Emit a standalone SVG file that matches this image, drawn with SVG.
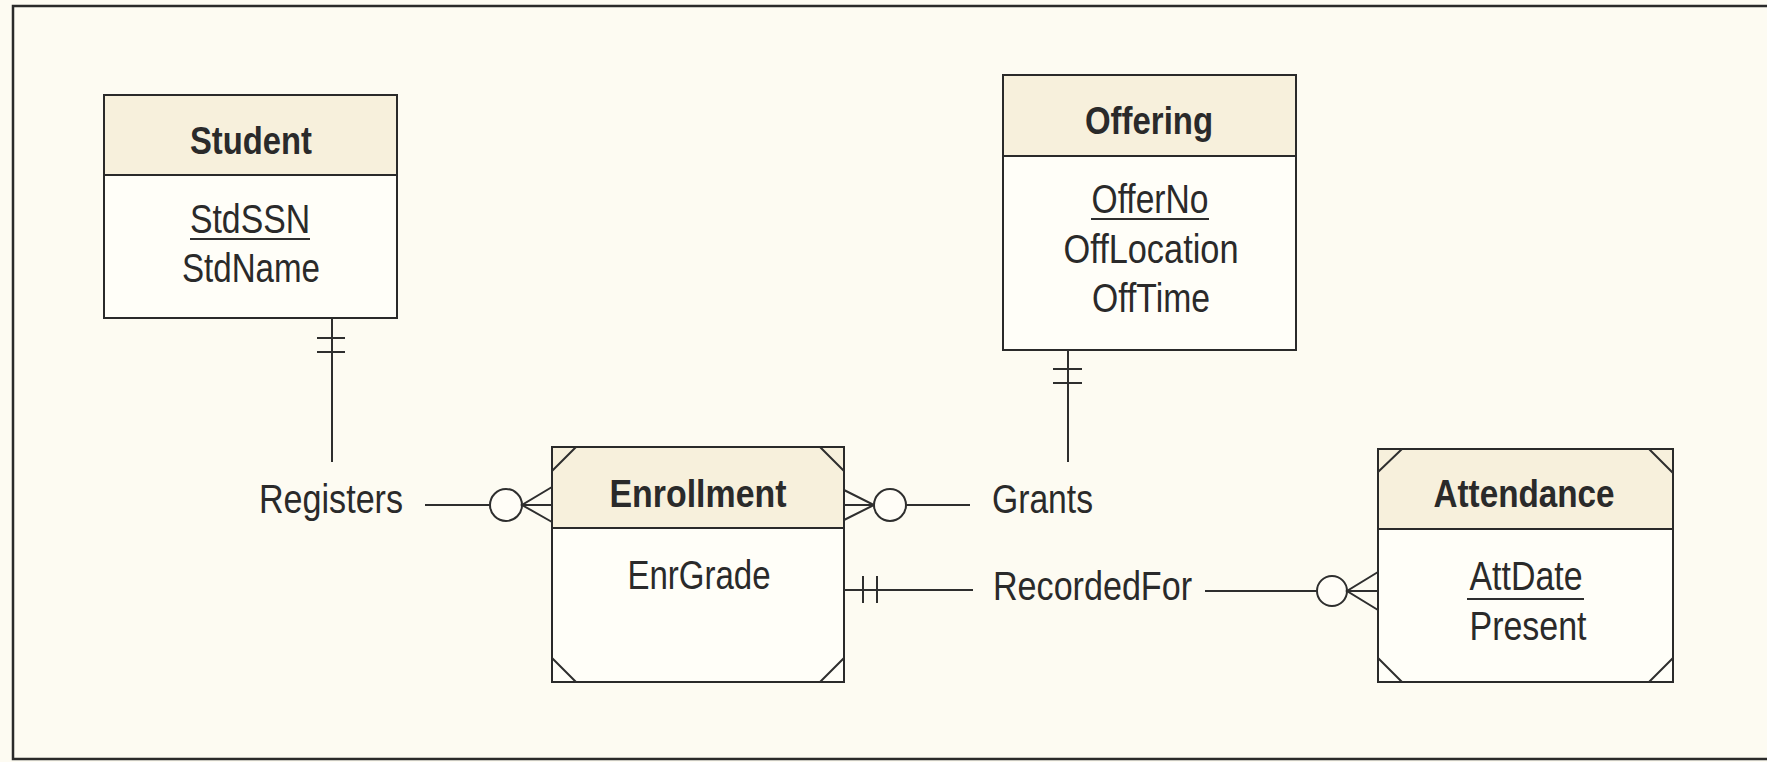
<svg xmlns="http://www.w3.org/2000/svg" width="1767" height="762" viewBox="0 0 1767 762">
<style>
.bg{fill:#fdfbf2}
.frame{fill:none;stroke:#2a2a2a;stroke-width:2.5}
.box{fill:#fffef8;stroke:#2a2a2a;stroke-width:2}
.hdr{fill:#f7f0dc;stroke:#2a2a2a;stroke-width:2}
.ln{fill:none;stroke:#2e2e2e;stroke-width:2}
.circ{fill:#fffdf7;stroke:#2e2e2e;stroke-width:2}
text{font-family:"Liberation Sans Narrow","Liberation Sans",Arial,sans-serif;font-size:41px;fill:#2a2a2a}
.t{font-weight:bold;text-anchor:middle;font-size:38px}
.a{text-anchor:middle}
</style>
<rect class="bg" x="0" y="0" width="1767" height="762"/>
<path class="frame" d="M1775,6 H13 V759 H1775"/>

<g id="student">
<rect class="box" x="104" y="95" width="293" height="223"/>
<rect class="hdr" x="104" y="95" width="293" height="80"/>
<text class="t" x="251" y="154" textLength="122" lengthAdjust="spacingAndGlyphs">Student</text>
<text class="a" x="250" y="233" textLength="120" lengthAdjust="spacingAndGlyphs">StdSSN</text>
<line class="ln" x1="190" y1="239" x2="310" y2="239"/>
<text class="a" x="251" y="282" textLength="138" lengthAdjust="spacingAndGlyphs">StdName</text>
</g>

<g id="offering">
<rect class="box" x="1003" y="75" width="293" height="275"/>
<rect class="hdr" x="1003" y="75" width="293" height="81"/>
<text class="t" x="1149" y="134" textLength="128" lengthAdjust="spacingAndGlyphs">Offering</text>
<text class="a" x="1150" y="213" textLength="117" lengthAdjust="spacingAndGlyphs">OfferNo</text>
<line class="ln" x1="1091" y1="219" x2="1209" y2="219"/>
<text class="a" x="1151" y="263" textLength="175" lengthAdjust="spacingAndGlyphs">OffLocation</text>
<text class="a" x="1151" y="312" textLength="118" lengthAdjust="spacingAndGlyphs">OffTime</text>
</g>

<g id="enrollment">
<rect class="box" x="552" y="447" width="292" height="235"/>
<rect class="hdr" x="552" y="447" width="292" height="81"/>
<path class="ln" d="M552,471 L576,447 M820,447 L844,471 M552,658 L576,682 M820,682 L844,658"/>
<text class="t" x="698" y="507" textLength="177" lengthAdjust="spacingAndGlyphs">Enrollment</text>
<text class="a" x="699" y="589" textLength="143" lengthAdjust="spacingAndGlyphs">EnrGrade</text>
</g>

<g id="attendance">
<rect class="box" x="1378" y="449" width="295" height="233"/>
<rect class="hdr" x="1378" y="449" width="295" height="80"/>
<path class="ln" d="M1378,472 L1402,449 M1649,449 L1673,473 M1378,658 L1402,682 M1649,682 L1673,658"/>
<text class="t" x="1524" y="507" textLength="181" lengthAdjust="spacingAndGlyphs">Attendance</text>
<text class="a" x="1526" y="590" textLength="113" lengthAdjust="spacingAndGlyphs">AttDate</text>
<line class="ln" x1="1467" y1="599" x2="1584" y2="599"/>
<text class="a" x="1528" y="640" textLength="117" lengthAdjust="spacingAndGlyphs">Present</text>
</g>

<g id="connectors">
<line class="ln" x1="332" y1="318" x2="332" y2="462"/>
<line class="ln" x1="317" y1="338" x2="345" y2="338"/>
<line class="ln" x1="317" y1="352" x2="345" y2="352"/>
<text x="259" y="513" textLength="144" lengthAdjust="spacingAndGlyphs">Registers</text>
<line class="ln" x1="425" y1="505" x2="490" y2="505"/>
<circle class="circ" cx="506" cy="505" r="16"/>
<path class="ln" d="M552,487 L522,505 L552,522 M522,505 H552"/>
<line class="ln" x1="1068" y1="350" x2="1068" y2="462"/>
<line class="ln" x1="1053" y1="369" x2="1082" y2="369"/>
<line class="ln" x1="1053" y1="383" x2="1082" y2="383"/>
<text x="992" y="513" textLength="101" lengthAdjust="spacingAndGlyphs">Grants</text>
<path class="ln" d="M844,490 L874,505 L844,520 M844,505 H874"/>
<circle class="circ" cx="890" cy="505" r="16"/>
<line class="ln" x1="906" y1="505" x2="970" y2="505"/>
<line class="ln" x1="844" y1="590" x2="973" y2="590"/>
<line class="ln" x1="863" y1="576" x2="863" y2="603"/>
<line class="ln" x1="877" y1="576" x2="877" y2="603"/>
<text x="993" y="600" textLength="199" lengthAdjust="spacingAndGlyphs">RecordedFor</text>
<line class="ln" x1="1205" y1="591" x2="1317" y2="591"/>
<circle class="circ" cx="1332" cy="591" r="15"/>
<path class="ln" d="M1378,572 L1347,591 L1378,610 M1347,591 H1378"/>
</g>
</svg>
